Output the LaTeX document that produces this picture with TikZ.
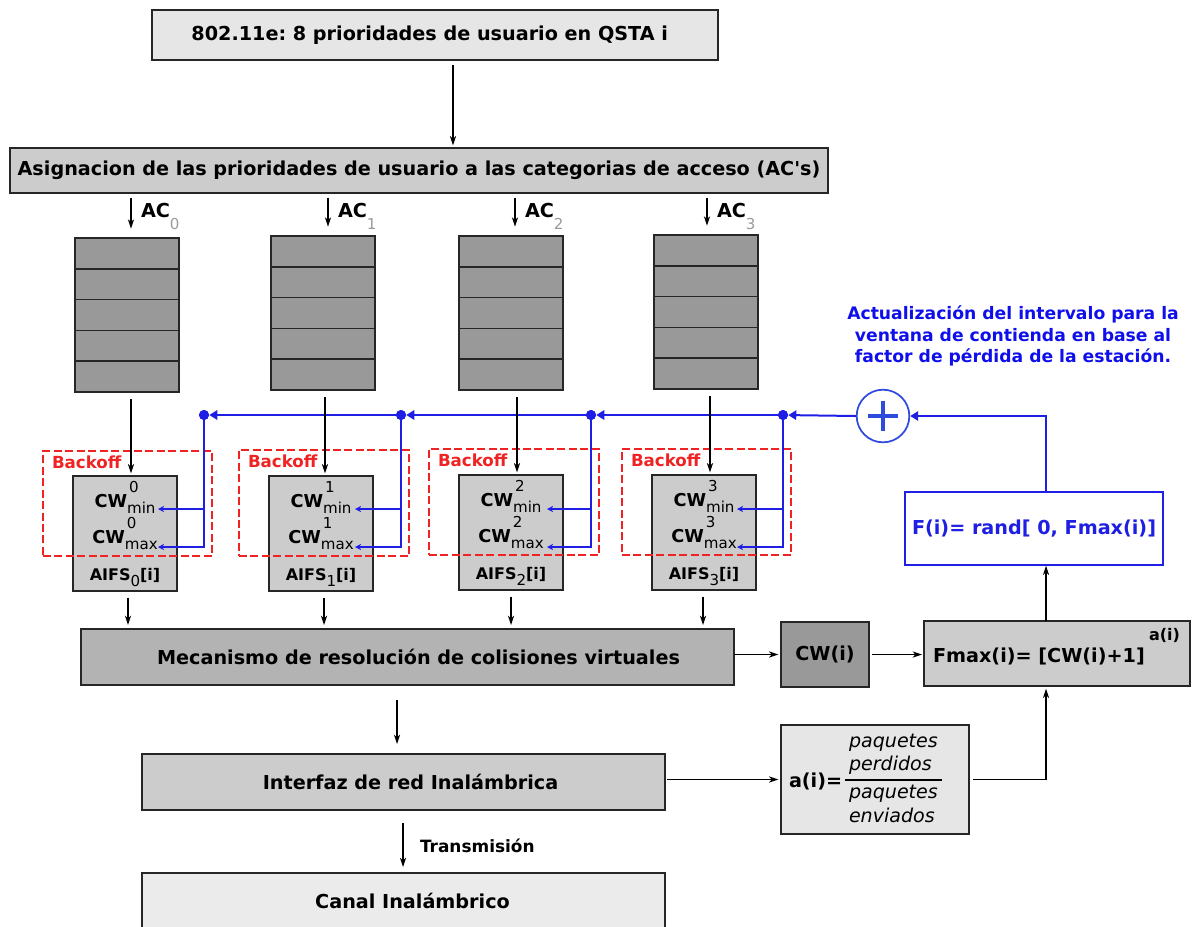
\documentclass[tikz,border=0pt]{standalone}
\usepackage{fontspec}
\setmainfont{DejaVu Sans}[Ligatures=TeXOff]
\usetikzlibrary{arrows.meta,calc}
\frenchspacing
\definecolor{gA}{HTML}{E6E6E6}
\definecolor{gB}{HTML}{CCCCCC}
\definecolor{gC}{HTML}{999999}
\definecolor{gD}{HTML}{B3B3B3}
\definecolor{gE}{HTML}{EBEBEB}
\definecolor{gS}{HTML}{9A9A9A}
\definecolor{bl}{RGB}{30,30,228}
\definecolor{bt}{RGB}{15,15,235}
\definecolor{pc}{RGB}{45,75,222}
\definecolor{rd}{RGB}{240,35,35}
\newcommand\ftit{\bfseries\fontsize{14.4}{17}\selectfont}
\newcommand\fbo{\bfseries\fontsize{12.5}{14}\selectfont}
\newcommand\fsub{\mdseries\fontsize{11.3}{13}\selectfont}
\newcommand\fcw{\bfseries\fontsize{13.3}{15}\selectfont}
\newcommand\faifs{\bfseries\fontsize{12}{14}\selectfont}
\newcommand\fitl{\mdseries\itshape\fontsize{14.3}{17}\selectfont}
\newcommand\fblue{\bfseries\fontsize{12.9}{15.9}\selectfont}
\newcommand\ftr{\bfseries\fontsize{12.7}{15}\selectfont}
\newcommand\fsupai{\bfseries\fontsize{12}{14}\selectfont}
\newcommand\cwl[2]{{\fcw CW}\rlap{\kern1.5pt\raisebox{11pt}{\fsub #1}}\raisebox{-4.8pt}{\fsub #2}}
\newcommand\aifsl[1]{{\faifs AIFS}\raisebox{-4.5pt}{\fsub #1}{\faifs [i]}}
\newcommand\acl[1]{{\ftit AC}\raisebox{-9pt}{\fsub\color{gS}#1}}
\begin{document}
\begin{tikzpicture}[x=0.75pt,y=-0.75pt,
  bx/.style 2 args={draw=black!85, line width=1.1pt, anchor=north west, inner sep=0pt, outer sep=0pt,
     minimum width=#1*0.75pt, minimum height=#2*0.75pt},
  txt/.style={inner sep=0pt, outer sep=0pt},
  arr/.style={draw=black, line width=1pt, -{Stealth[length=7pt,width=4.6pt,inset=2pt]}},
  barr/.style={draw=bl, line width=1.5pt, -{Triangle[length=6pt,width=7pt]}},
  bthin/.style={draw=bl, line width=1.1pt, -{Stealth[length=4.5pt,width=4.5pt,inset=1.2pt]}},
  dot/.style={circle, fill=bl, inner sep=0pt, minimum size=7.5pt},
  bodash/.style={draw=rd, line width=1.5pt, dash pattern=on 6pt off 2.6pt, anchor=north west, inner sep=0pt},
  qline/.style={draw=black!85, line width=1.1pt}]
\useasboundingbox (0,0) rectangle (1194,926);

% main boxes
\node[bx={566}{50}, fill=gA, font=\ftit] (title) at (152,10) {802.11e: 8 prioridades de usuario en QSTA i\hspace*{8pt}};
\node[bx={818}{45}, fill=gB, font=\ftit] (asign) at (10,148) {Asignacion de las prioridades de usuario a las categorias de acceso (AC's)};
\node[bx={653}{56}, fill=gD, font=\ftit] (mec) at (81,629) {\hspace*{16.5pt}Mecanismo de resolución de colisiones virtuales};
\node[bx={88}{65}, fill=gC, font=\ftit] (cwi) at (781,622) {CW(i)};
\node[bx={266}{65}, fill=gB] (fmax) at (924,621) {};
\node[txt, anchor=base west, font=\ftit] (fmaxt) at (933,662) {Fmax(i)= [CW(i)+1]};
\node[txt, anchor=base west, font=\fsupai] (fmaxs) at (1149,640) {a(i)};
\node[bx={258}{73}, draw=bl, fill=white, font=\ftit, text=bl] (fbox) at (905,492) {F(i)= rand[ 0, Fmax(i)]};
\node[bx={523}{56}, fill=gB, font=\ftit] (intf) at (142,754) {\hspace*{10.5pt}Interfaz de red Inalámbrica};
\node[bx={188}{109}, fill=gA] (abox) at (781,725) {};
\node[txt, anchor=base west, font=\ftit] (ai) at (789,787) {a(i)=};
\node[txt, anchor=base west, font=\fitl] (n1) at (849,747) {paquetes};
\node[txt, anchor=base west, font=\fitl] (n2) at (849,770) {perdidos};
\node[txt, anchor=base west, font=\fitl] (d1) at (849,798) {paquetes};
\node[txt, anchor=base west, font=\fitl] (d2) at (849,822) {enviados};
\draw[line width=1pt] (845,780) -- (942,780);
\node[bx={523}{56}, fill=gE, font=\ftit] (canal) at (142,873) {\hspace*{13.5pt}Canal Inalámbrico};
\node[txt, anchor=west, font=\ftr] (trans) at (420,846) {Transmisión};
\node[font=\fblue, text=bt, align=center] (note) at (1013,336) {Actualización del intervalo para la\\ventana de contienda en base al\\factor de pérdida de la estación.};

% plus node
\node[circle, draw=pc, line width=1.3pt, minimum size=39.5pt, inner sep=0pt, fill=white] (plus) at (883,416) {};
\draw[pc, line width=3pt] ($(plus.center)+(-15,0)$) -- ($(plus.center)+(15,0)$);
\draw[pc, line width=3pt] ($(plus.center)+(0,-15)$) -- ($(plus.center)+(0,15)$);

% columns
\foreach \i/\acx/\qx/\qy/\dnx/\cx/\cy/\bxa/\bya/\bxb/\byb/\dtx/\tpx/\btx in {
  0/131/75/238/131/73/476/42/450/211/555/204/158/128,
  1/328/271/236/325/269/476/238/449/408/555/401/355/324,
  2/515/459/236/517/459/475/428/448/598/554/591/547/511,
  3/707/654/235/710/652/475/621/448/790/554/783/737/703}{
  \node[bx={104}{154}, fill=gC] (q\i) at (\qx,\qy) {};
  \foreach \k in {1,...,4}{
    \draw[qline] ($(q\i.north west)+(0,\k*30.8)$) -- ($(q\i.north east)+(0,\k*30.8)$);
  }
  \node[bx={104}{115}, fill=gB] (cw\i) at (\cx,\cy) {};
  \node[txt, anchor=base] (cmin\i) at ($(cw\i.north)+(0,31)$) {\cwl{\i}{min}};
  \node[txt, anchor=base] (cmax\i) at ($(cw\i.north)+(0,67)$) {\cwl{\i}{max}};
  \node[txt, anchor=base] (aifs\i) at ($(cw\i.north)+(0,104)$) {\aifsl{\i}};
  \node[bodash, minimum width={(\bxb-\bxa)*0.75pt}, minimum height={(\byb-\bya)*0.75pt}] (bo\i) at (\bxa,\bya) {};
  \node[txt, anchor=base west, font=\fbo, text=rd] (bol\i) at (\bxa+10,\bya+18) {Backoff};
  \node[txt, anchor=base west] (acl\i) at (\acx+10,217) {\acl{\i}};
  \coordinate (ax\i) at (\acx,0);
  \coordinate (dn\i) at (\dnx,0);
  \coordinate (bt\i) at (\btx,0);
  \node[dot] (dt\i) at (\dtx,415) {};
  \coordinate (tmin\i) at (\tpx,509);
  \coordinate (tmax\i) at (\tpx,547);
}

% blue feedback
\coordinate (xr) at (1046,0);
\draw[barr] (fbox.north -| xr) |- (plus.east);
\draw[barr] (plus.west) -- (dt3);
\draw[barr] (dt3) -- (dt2);
\draw[barr] (dt2) -- (dt1);
\draw[barr] (dt1) -- (dt0);
\foreach \i in {0,...,3}{
  \draw[bthin] (dt\i.center) |- (tmax\i);
  \draw[bthin] (tmin\i -| dt\i) -- (tmin\i);
  \node[dot] at (dt\i) {};
}

% black connectors
\draw[arr, shorten <=4pt, shorten >=2pt] ($(title.south west)+(301,0)$) -- ($(asign.north west)+(443,0)$);
\foreach \i in {0,...,3}{
  \draw[arr, shorten <=3.5pt, shorten >=7pt] (asign.south -| ax\i) -- (q\i.north -| ax\i);
  \draw[arr, shorten <=5.5pt, shorten >=2pt] (q\i.south -| dn\i) -- (cw\i.north -| dn\i);
  \draw[arr, shorten <=5pt, shorten >=3pt] (cw\i.south -| bt\i) -- (mec.north -| bt\i);
}
\draw[arr, shorten >=2pt] (mec.east |- cwi.west) -- (cwi.west);
\draw[arr, shorten <=2pt, shorten >=1.5pt] (cwi.east) -- (fmax.west |- cwi.east);
\draw[arr, shorten >=0.5pt] (fmax.north -| xr) -- (fbox.south -| xr);
\coordinate (xm) at (397,0);
\draw[arr, shorten <=11pt, shorten >=7.5pt] (mec.south -| xm) -- (intf.north -| xm);
\draw[arr, shorten <=1.5pt, shorten >=2pt] (intf.east |- abox.west) -- (abox.west);
\draw[arr, shorten <=3pt, shorten >=2pt] (abox.east) -| (fmax.south -| xr);
\coordinate (xt) at (403,0);
\draw[arr, shorten <=9.5pt, shorten >=4.5pt] (intf.south -| xt) -- (canal.north -| xt);
\end{tikzpicture}
\end{document}
